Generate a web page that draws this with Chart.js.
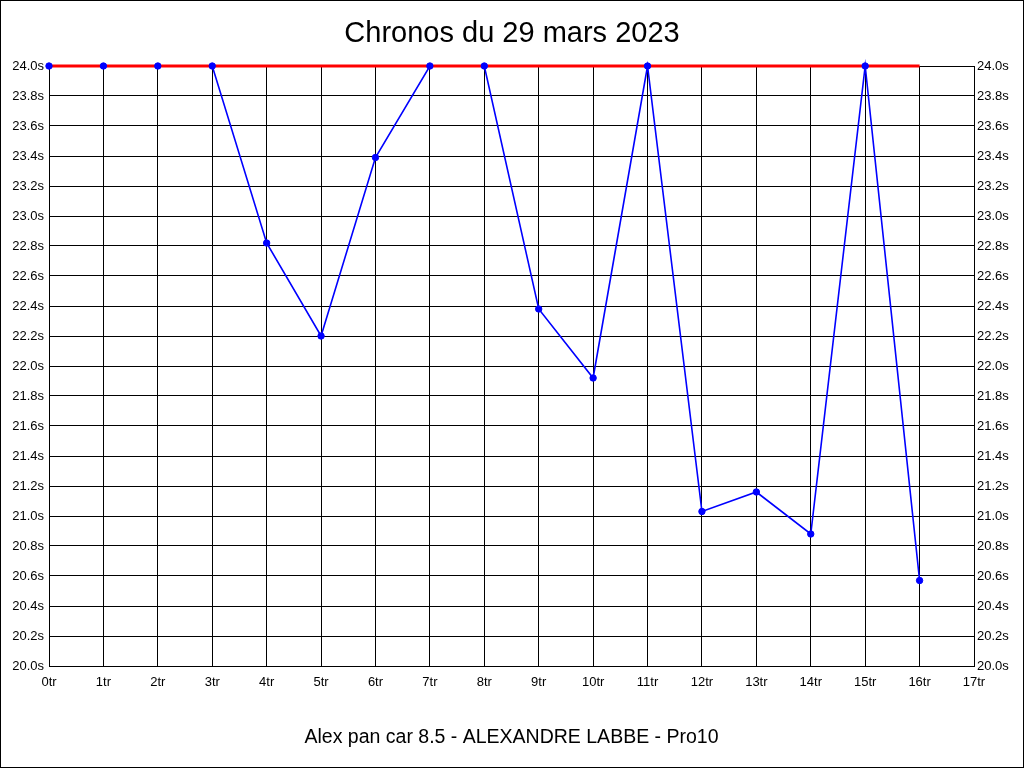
<!DOCTYPE html>
<html>
<head>
<meta charset="utf-8">
<script src="https://cdn.jsdelivr.net/npm/chart.js@4.4.0/dist/chart.umd.min.js"></script>
<style>
html,body{margin:0;padding:0;background:#fff;}
canvas{display:block;}
</style>
</head>
<body>
<canvas id="c" width="1024" height="768"></canvas>
<script>
const laps = [0,1,2,3,4,5,6,7,8,9,10,11,12,13,14,15,16];
const times = [24.0,24.0,24.0,24.0,22.82,22.20,23.39,24.0,24.0,22.38,21.92,24.0,21.03,21.16,20.88,24.0,20.57];
const limitTimes = [24.0,24.0,24.0,24.0,24.0,24.0,24.0,24.0,24.0,24.0,24.0,24.0,24.0,24.0,24.0,24.0,24.0];
const titleText = 'Chronos du 29 mars 2023';
const captionText = 'Alex pan car 8.5 - ALEXANDRE LABBE - Pro10';
const xMin = 0, xMax = 17, yMin = 20, yMax = 24, yStep = 0.2;

const pts = (ys) => laps.map((x, i) => ({x: x, y: ys[i]}));

const frame = {
  id: 'frame',
  beforeDraw(chart) {
    const ctx = chart.ctx;
    ctx.save();
    ctx.fillStyle = '#fff';
    ctx.fillRect(0, 0, chart.width, chart.height);
    ctx.restore();
  },
  afterDraw(chart) {
    const ctx = chart.ctx;
    ctx.save();
    ctx.strokeStyle = '#000';
    ctx.lineWidth = 1;
    ctx.strokeRect(0.5, 0.5, chart.width - 1, chart.height - 1);
    ctx.restore();
  }
};

const tickFont = {family: '"Liberation Sans", Arial, sans-serif', size: 13};

new Chart(document.getElementById('c'), {
  type: 'line',
  data: {
    datasets: [
      {data: pts(times), borderColor: '#0000ff', borderWidth: 1.6, pointRadius: 0, fill: false, tension: 0, order: 3, clip: false},
      {data: pts(limitTimes), borderColor: '#ff0000', borderWidth: 3, pointRadius: 0, fill: false, tension: 0, order: 2, clip: false},
      {data: pts(times), showLine: false, pointRadius: 3.2, pointBackgroundColor: '#0000ff', pointBorderColor: '#0000ff', pointBorderWidth: 1, order: 1, clip: false}
    ]
  },
  options: {
    responsive: false,
    animation: false,
    devicePixelRatio: 1,
    layout: {padding: 0},
    plugins: {
      legend: {display: false},
      tooltip: {enabled: false},
      title: {
        display: true,
        text: titleText,
        color: '#000',
        font: {family: '"Liberation Sans", Arial, sans-serif', size: 29, weight: 'normal'},
        padding: {top: 17, bottom: 14.2}
      }
    },
    scales: {
      x: {
        type: 'linear',
        min: xMin, max: xMax,
        ticks: {stepSize: 1, color: '#000', font: tickFont, padding: 9, maxRotation: 0, autoSkip: false,
          callback: (v) => v + 'tr'},
        grid: {color: '#000', lineWidth: 1, drawTicks: false},
        border: {color: '#000', width: 1},
        title: {display: true, text: captionText, color: '#000',
          font: {family: '"Liberation Sans", Arial, sans-serif', size: 19.5}, padding: {top: 0, bottom: 19}},
        afterFit(s) { s.height = 102; }
      },
      y: {
        type: 'linear', position: 'left',
        min: yMin, max: yMax,
        ticks: {stepSize: yStep, color: '#000', font: tickFont, padding: 5,
          callback: (v) => v.toFixed(1) + 's'},
        grid: {color: '#000', lineWidth: 1, drawTicks: false},
        border: {color: '#000', width: 1},
        afterFit(s) { s.width = 49; }
      },
      y2: {
        type: 'linear', position: 'right',
        min: yMin, max: yMax,
        ticks: {stepSize: yStep, color: '#000', font: tickFont, padding: 3,
          callback: (v) => v.toFixed(1) + 's'},
        grid: {display: false, drawTicks: false},
        border: {color: '#000', width: 1},
        afterFit(s) { s.width = 50; }
      }
    }
  },
  plugins: [frame]
});
</script>
</body>
</html>
